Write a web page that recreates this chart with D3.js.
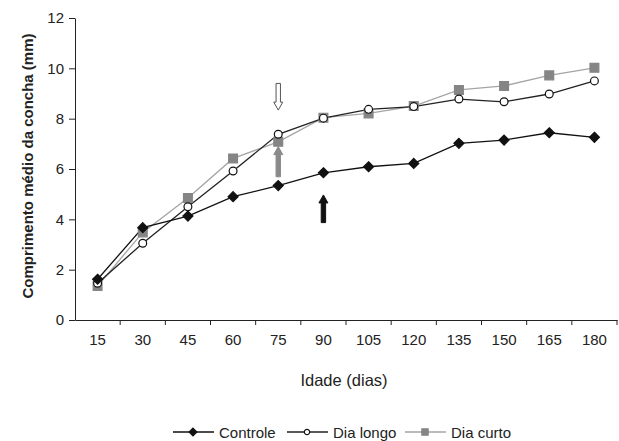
<!DOCTYPE html>
<html>
<head>
<meta charset="utf-8">
<script src="https://cdn.jsdelivr.net/npm/d3@7"></script>
<style>
  body { margin: 0; background: #fff; }
  text { font-family: "Liberation Sans", Arial, sans-serif; fill: #222; }
</style>
</head>
<body>
<div id="chart"></div>
<script>
const MARGIN = {TOP: 18, BOTTOM: 121, LEFT: 75, RIGHT: 2};
const W = 619, H = 441;
const WIDTH = W - MARGIN.LEFT - MARGIN.RIGHT;
const HEIGHT = H - MARGIN.TOP - MARGIN.BOTTOM;

// data
const days = [15, 30, 45, 60, 75, 90, 105, 120, 135, 150, 165, 180];
const controle = [1.62, 3.67, 4.13, 4.9, 5.34, 5.85, 6.09, 6.22, 7.02, 7.15, 7.44, 7.26];
const diaLongo = [1.46, 3.05, 4.5, 5.92, 7.38, 8.02, 8.37, 8.48, 8.78, 8.67, 8.98, 9.5];
const diaCurto = [1.35, 3.48, 4.85, 6.42, 7.08, 8.04, 8.21, 8.5, 9.14, 9.3, 9.72, 10.02];
const yTicks = [0, 2, 4, 6, 8, 10, 12];
// arrows: day, tail value, tip value
const arrows = [
  {day: 75, from: 9.4, to: 8.34, fill: "#fff", stroke: "#555"},
  {day: 75, from: 5.69, to: 6.89, fill: "#8a8a8a", stroke: "#8a8a8a"},
  {day: 90, from: 3.87, to: 4.97, fill: "#111", stroke: "#111"}
];

// rotated square, like the excel diamond marker
const diamondType = {
  draw(ctx, size) {
    const r = Math.sqrt(size / 2);
    ctx.moveTo(0, -r); ctx.lineTo(r, 0); ctx.lineTo(0, r); ctx.lineTo(-r, 0); ctx.closePath();
  }
};

const series = [
  {name: "Controle", values: controle, line: "#111", shape: "diamond", fill: "#111", stroke: "#111"},
  {name: "Dia longo", values: diaLongo, line: "#222", shape: "circle", fill: "#fff", stroke: "#111"},
  {name: "Dia curto", values: diaCurto, line: "#a5a5a5", shape: "square", fill: "#858585", stroke: "#858585"}
];

const svg = d3.select("#chart").append("svg")
  .attr("width", W).attr("height", H)
  .append("g")
  .attr("transform", `translate(${MARGIN.LEFT},${MARGIN.TOP})`);

const x = d3.scaleBand().domain(days).range([0, WIDTH]).padding(0);
const y = d3.scaleLinear().domain([0, 12]).range([HEIGHT, 0]);
const cx = d => x(d) + x.bandwidth() / 2;

// y axis
const yAxis = svg.append("g")
  .call(d3.axisLeft(y).tickValues(yTicks).tickSize(6).tickSizeOuter(0).tickPadding(5));
yAxis.select(".domain").attr("stroke", "#222");
yAxis.selectAll(".tick line").attr("stroke", "#222");
yAxis.selectAll("text").style("font-size", "15px").attr("fill", "#222");

// x axis
const xAxis = svg.append("g")
  .attr("transform", `translate(0,${HEIGHT})`)
  .call(d3.axisBottom(x).tickSize(0).tickSizeOuter(0).tickPadding(14));
xAxis.select(".domain").attr("stroke", "#222");
xAxis.selectAll("text").style("font-size", "15px").attr("fill", "#222");
svg.append("g").selectAll("line")
  .data(days.slice(1).map(d => x(d)).concat([WIDTH]))
  .enter().append("line")
  .attr("x1", d => d).attr("x2", d => d)
  .attr("y1", HEIGHT).attr("y2", HEIGHT + 5)
  .attr("stroke", "#222");

// axis titles
svg.append("text")
  .attr("x", 269).attr("y", HEIGHT + 66)
  .attr("text-anchor", "middle")
  .style("font-size", "16.5px")
  .text("Idade (dias)");

svg.append("text")
  .attr("transform", `translate(-42,${HEIGHT / 2 - 3}) rotate(-90)`)
  .attr("text-anchor", "middle")
  .style("font-size", "15px").style("font-weight", "bold")
  .text("Comprimento médio da concha (mm)");

// arrows
const arrowG = svg.append("g");
arrows.forEach(a => {
  const ax = cx(a.day);
  const tip = y(a.to), tail = y(a.from);
  const dir = tail > tip ? 1 : -1;
  const headLen = 8, hw = 4.5, sw = 2.2;
  const base = tip + dir * headLen;
  const pts = [
    [ax, tip], [ax + hw, base], [ax + sw, base], [ax + sw, tail],
    [ax - sw, tail], [ax - sw, base], [ax - hw, base]
  ];
  arrowG.append("path")
    .attr("d", d3.line()(pts) + "Z")
    .attr("fill", a.fill).attr("stroke", a.stroke).attr("stroke-width", 1);
});

// lines and markers
const line = d3.line().x((d, i) => cx(days[i])).y(d => y(d));
const symbols = {
  diamond: d3.symbol().type(diamondType).size(50),
  circle: d3.symbol().type(d3.symbolCircle).size(48),
  square: d3.symbol().type(d3.symbolSquare).size(78)
};
const legendSymbols = {
  diamond: d3.symbol().type(diamondType).size(30),
  circle: d3.symbol().type(d3.symbolCircle).size(22),
  square: d3.symbol().type(d3.symbolSquare).size(40)
};

series.slice().reverse().forEach(s => {
  svg.append("path")
    .datum(s.values)
    .attr("fill", "none")
    .attr("stroke", s.line)
    .attr("stroke-width", 1.3)
    .attr("d", line);
});
series.slice().reverse().forEach(s => {
  svg.append("g").selectAll("path")
    .data(s.values)
    .enter().append("path")
    .attr("transform", (d, i) => `translate(${cx(days[i])},${y(d)})`)
    .attr("d", symbols[s.shape])
    .attr("fill", s.fill)
    .attr("stroke", s.stroke)
    .attr("stroke-width", 1.2);
});

// legend
const legendX = [173, 287, 405];
const legend = svg.append("g").attr("transform", `translate(${-MARGIN.LEFT},${432 - MARGIN.TOP})`);
series.forEach((s, i) => {
  const g = legend.append("g").attr("transform", `translate(${legendX[i]},0)`);
  g.append("line").attr("x1", 0).attr("x2", 41).attr("y1", 0).attr("y2", 0)
    .attr("stroke", s.line).attr("stroke-width", 1.3);
  g.append("path").attr("transform", "translate(20,0)")
    .attr("d", legendSymbols[s.shape])
    .attr("fill", s.fill).attr("stroke", s.stroke).attr("stroke-width", 1.2);
  g.append("text").attr("x", 46).attr("y", 5.5)
    .style("font-size", "15px")
    .text(s.name);
});
</script>
</body>
</html>
